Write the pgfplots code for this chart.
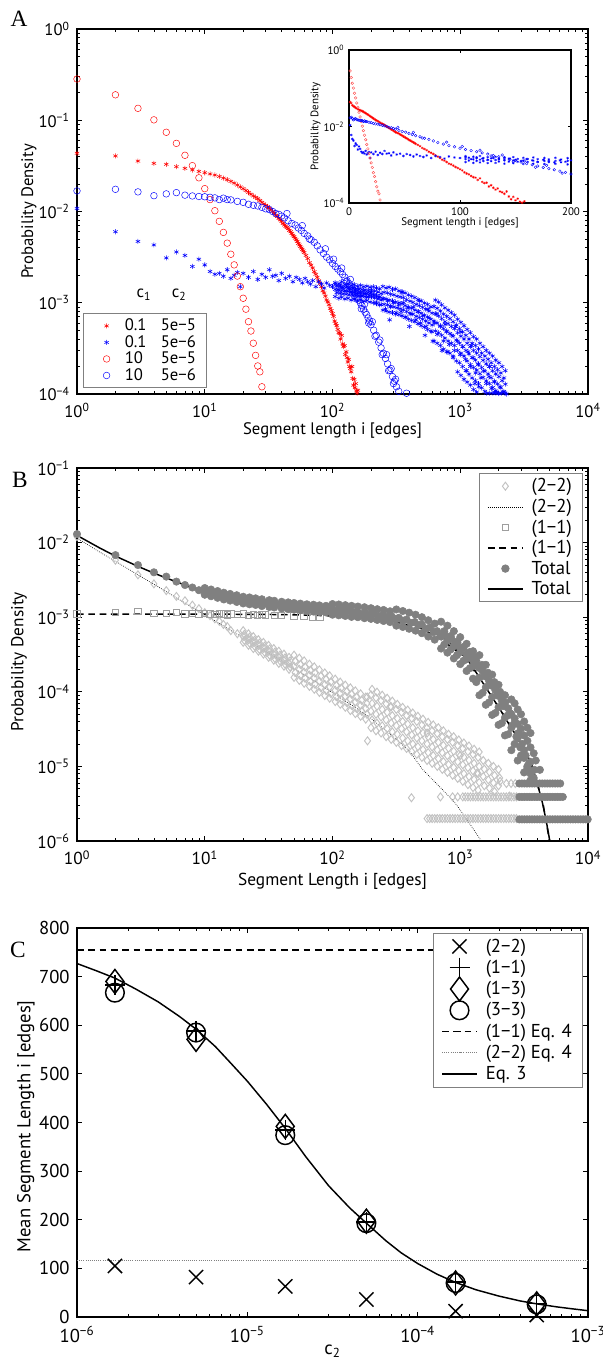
\documentclass[border=0pt]{standalone}
\usepackage{pgfplots}
\pgfplotsset{compat=1.18}
\usepackage{pgfplotstable}
\usepackage{fontspec}
\setmainfont{PT Sans}
\newfontfamily\serifL{Liberation Serif}
\newcommand{\E}[1]{10\textsuperscript{#1}}
\definecolor{dgray}{gray}{0.5}
\definecolor{lgray}{gray}{0.76}
\definecolor{mgray}{gray}{0.62}
\newcommand{\fa}{\fontsize{12.5}{14}\selectfont}
\newcommand{\fb}{\fontsize{13}{15}\selectfont}
\newcommand{\fbl}{\fontsize{14}{16}\selectfont}
\newcommand{\fc}{\fontsize{14}{16}\selectfont}
\newcommand{\insetfont}{\fontsize{8.2}{9.5}\selectfont}
% legend image for mark-only series: width, draw options, mark options
\newcommand{\mleg}[3]{\addlegendimage{legend image code/.code={\path (0cm,0cm) (#1,0cm);\begin{pgfinterruptboundingbox}\draw[#2] plot[#3] coordinates {(#1/2,0cm)};\end{pgfinterruptboundingbox}}}}

\pgfplotsset{
  mainax/.style={
    scale only axis, width=383.25pt, anchor=south west,
    axis line style={line width=0.9pt},
    tick style={line width=0.6pt, black},
    major tick length=3.5pt, minor tick length=2pt,
    xticklabel style={yshift=-3.5pt},
    yticklabel style={xshift=-2pt},
    legend style={draw=gray, line width=0.6pt, inner xsep=6pt},
    legend cell align=left,
    legend image code/.code={\draw[mark repeat=2,mark phase=2,##1] plot coordinates {(0cm,0cm) (0.46cm,0cm) (0.92cm,0cm)};},
  },
}

% ---------- Panel A data ----------
\pgfplotstableread{
i y
1 0.283
2 0.190
3 0.135
4 0.101
5 0.0738
6 0.0558
7 0.0413
8 0.0318
9 0.0234
10 0.0178
11 0.0135
12 0.0102
13 0.0078
14 0.0059
15 0.0045
16 0.0034
17 0.0026
18 0.00196
19 0.0015
20 0.00112
21 0.00085
22 0.00062
23 0.00049
24 0.00036
25 0.000265
26 0.000203
27 0.000175
28 0.00012
}\rc

\pgfplotstableread{
i y
1 4.35e-2
2 4.06e-2
3 3.57e-2
4 3.37e-2
5 3.29e-2
6 3.1e-2
7 2.97e-2
8 2.85e-2
9 2.75e-2
10 2.66e-2
11 2.58e-2
12 2.51e-2
13 2.42e-2
14 2.32e-2
15 2.23e-2
16 2.14e-2
17 2.05e-2
18 1.95e-2
19 1.86e-2
20 1.78e-2
21 1.7e-2
22 1.62e-2
23 1.55e-2
24 1.48e-2
25 1.43e-2
26 1.38e-2
27 1.32e-2
28 1.26e-2
29 1.21e-2
30 1.17e-2
31 1.13e-2
32 1.09e-2
33 1.05e-2
34 1.0e-2
35 9.6e-3
36 9.1e-3
37 8.8e-3
38 8.4e-3
39 8.1e-3
40 7.8e-3
41 7.4e-3
42 7.1e-3
43 6.9e-3
44 6.7e-3
45 6.5e-3
46 6.2e-3
47 6.0e-3
48 5.75e-3
49 5.5e-3
50 5.3e-3
51 5.1e-3
52 4.9e-3
53 4.7e-3
54 4.47e-3
55 4.3e-3
56 4.15e-3
57 3.98e-3
58 3.85e-3
59 3.7e-3
60 3.55e-3
62 3.3e-3
64 3.05e-3
66 2.75e-3
68 2.58e-3
70 2.4e-3
72 2.19e-3
74 2.05e-3
76 1.9e-3
78 1.74e-3
80 1.63e-3
82 1.5e-3
84 1.35e-3
86 1.28e-3
88 1.18e-3
90 1.07e-3
92 1.02e-3
94 9.5e-4
96 8.7e-4
98 8.2e-4
100 7.6e-4
102 7.1e-4
104 6.3e-4
106 5.9e-4
108 5.6e-4
110 5.1e-4
112 4.7e-4
114 4.6e-4
116 4.0e-4
118 4.4e-4
120 3.55e-4
122 3.3e-4
124 3.4e-4
126 2.7e-4
128 2.9e-4
130 2.5e-4
132 2.24e-4
134 2.4e-4
136 2.0e-4
138 1.9e-4
140 1.75e-4
142 2.0e-4
144 1.48e-4
146 1.25e-4
148 1.45e-4
150 1.17e-4
152 1.3e-4
154 1.08e-4
156 1.02e-4
158 1.1e-4
}\rs

\pgfplotstableread{
i y
1 1.68e-2
2 1.75e-2
3 1.64e-2
4 1.49e-2
5 1.56e-2
6 1.61e-2
7 1.51e-2
8 1.48e-2
9 1.46e-2
10 1.45e-2
11 1.43e-2
12 1.41e-2
13 1.35e-2
14 1.40e-2
15 1.35e-2
16 1.34e-2
18 1.29e-2
20 1.26e-2
22 1.20e-2
24 1.17e-2
26 1.15e-2
28 1.11e-2
30 1.07e-2
32 1.05e-2
34 1.0e-2
36 9.5e-3
38 9.3e-3
40 8.9e-3
42 8.5e-3
44 9.5e-3
45 7.9e-3
48 7.4e-3
51 7.1e-3
54 6.6e-3
57 6.2e-3
58 7.0e-3
60 5.75e-3
64 5.4e-3
66 5.0e-3
68 4.9e-3
72 4.6e-3
76 4.2e-3
80 3.8e-3
85 3.47e-3
88 3.9e-3
90 3.16e-3
95 2.95e-3
100 2.7e-3
102 3.0e-3
105 2.5e-3
110 2.34e-3
115 2.19e-3
118 2.4e-3
120 2.04e-3
125 1.9e-3
128 1.7e-3
130 1.74e-3
135 1.62e-3
138 1.8e-3
140 1.51e-3
145 1.38e-3
148 1.2e-3
150 1.29e-3
155 1.17e-3
158 1.25e-3
160 1.07e-3
165 1.0e-3
168 8.6e-4
170 9.3e-4
175 8.5e-4
178 9.6e-4
180 7.9e-4
185 7.4e-4
190 6.8e-4
192 6.0e-4
195 6.3e-4
200 5.75e-4
205 6.2e-4
210 5.0e-4
215 4.3e-4
220 4.4e-4
230 3.7e-4
235 3.9e-4
240 3.2e-4
245 2.7e-4
250 2.8e-4
260 2.45e-4
265 2.7e-4
270 2.14e-4
275 1.8e-4
282 1.82e-4
288 1.9e-4
295 1.55e-4
300 1.3e-4
305 1.38e-4
312 1.45e-4
317 1.2e-4
330 1.07e-4
380 1.02e-4
}\bc

\pgfplotstableread{
i y
1 1.08e-2
2 6.0e-3
3 4.7e-3
4 4.3e-3
5 3.1e-3
6 3.6e-3
7 3.3e-3
8 2.5e-3
9 3.0e-3
10 2.6e-3
11 2.2e-3
12 2.05e-3
13 2.1e-3
14 1.95e-3
15 2.3e-3
16 1.85e-3
17 2.0e-3
18 2.15e-3
19 1.5e-3
20 2.1e-3
22 1.9e-3
24 2.2e-3
26 1.8e-3
28 2.05e-3
30 1.9e-3
32 2.3e-3
34 1.95e-3
36 2.0e-3
38 1.75e-3
40 2.1e-3
43 1.85e-3
46 1.95e-3
49 1.7e-3
52 1.9e-3
55 1.8e-3
58 1.65e-3
61 1.85e-3
64 1.7e-3
67 1.6e-3
70 1.75e-3
74 1.5e-3
78 1.7e-3
82 1.6e-3
86 1.45e-3
90 1.65e-3
95 1.55e-3
100 1.5e-3
105 1.6e-3
110 1.4e-3
115 1.55e-3
120 1.45e-3
125 1.35e-3
130 1.5e-3
135 1.4e-3
140 1.3e-3
145 1.45e-3
150 1.35e-3
155 1.25e-3
160 1.4e-3
165 1.3e-3
170 1.2e-3
175 1.35e-3
180 1.25e-3
185 1.15e-3
190 1.3e-3
195 1.2e-3
200 1.3e-3
210 1.2e-3
220 1.0e-3
230 1.15e-3
240 9.5e-4
250 1.1e-3
260 8.5e-4
270 1.05e-3
280 6.5e-4
285 9.0e-4
300 1.0e-3
315 7.8e-4
330 9.5e-4
345 8.0e-4
350 1.3e-3
360 1.0e-3
375 7.0e-4
390 8.8e-4
400 5.5e-4
410 7.5e-4
430 9.0e-4
450 6.5e-4
470 8.0e-4
480 1.05e-3
490 6.0e-4
510 7.2e-4
530 4.4e-4
540 5.5e-4
560 8.5e-4
570 6.8e-4
600 4.8e-4
610 3.8e-4
630 6.0e-4
650 7.5e-4
660 4.5e-4
700 5.5e-4
720 3.0e-4
740 3.8e-4
760 5.8e-4
780 4.8e-4
800 2.9e-4
820 3.5e-4
860 4.4e-4
880 2.5e-4
900 3.0e-4
920 5.5e-4
950 3.8e-4
1000 2.7e-4
1010 4.8e-4
1050 3.3e-4
1100 2.4e-4
1120 1.8e-4
1150 2.9e-4
1200 2.0e-4
1220 3.4e-4
1260 2.5e-4
1300 1.3e-4
1320 1.7e-4
1380 2.1e-4
1400 1.2e-4
1450 1.5e-4
1520 1.8e-4
1600 1.3e-4
1680 1.55e-4
1700 2.0e-4
1760 1.15e-4
1850 1.35e-4
1930 1.05e-4
2050 1.2e-4
2160 1.05e-4
2300 1.0e-4
}\bs

\pgfplotstableread{
i y
105 1.66e-3
105 1.40e-3
105 1.17e-3
112 1.62e-3
112 1.38e-3
112 1.12e-3
118 1.70e-3
118 1.36e-3
118 1.15e-3
125 1.58e-3
125 1.35e-3
125 1.10e-3
132 1.62e-3
132 1.33e-3
132 1.12e-3
140 1.55e-3
140 1.32e-3
140 1.07e-3
148 1.58e-3
148 1.30e-3
148 1.09e-3
157 1.52e-3
157 1.29e-3
157 1.05e-3
166 1.55e-3
166 1.28e-3
166 1.07e-3
176 1.50e-3
176 1.27e-3
176 1.04e-3
186 1.52e-3
186 1.26e-3
186 1.06e-3
197 1.48e-3
197 1.26e-3
197 1.02e-3
209 1.5e-3
209 1.23e-3
209 1.0e-3
221 1.45e-3
221 1.20e-3
221 9.8e-4
234 1.42e-3
234 1.16e-3
234 9.5e-4
248 1.51e-3
248 1.12e-3
248 8.3e-4
263 1.45e-3
263 1.10e-3
263 8.1e-4
278 1.48e-3
278 1.07e-3
278 7.9e-4
295 1.40e-3
295 1.05e-3
295 7.8e-4
312 1.42e-3
312 1.02e-3
312 7.5e-4
331 1.35e-3
331 1.0e-3
331 7.4e-4
350 1.32e-3
350 9.8e-4
350 7.2e-4
371 1.28e-3
371 9.3e-4
371 6.9e-4
393 1.22e-3
393 9.0e-4
393 6.6e-4
416 1.18e-3
416 8.7e-4
416 6.4e-4
441 1.14e-3
441 8.3e-4
441 6.2e-4
467 1.08e-3
467 8.0e-4
467 5.9e-4
495 1.05e-3
495 7.7e-4
495 5.6e-4
524 9.9e-4
524 7.3e-4
524 5.4e-4
555 9.6e-4
555 7.0e-4
555 5.1e-4
588 9.0e-4
588 6.6e-4
588 4.9e-4
623 9.1e-4
623 6.3e-4
623 3.8e-4
660 8.7e-4
660 6.0e-4
660 3.6e-4
699 8.1e-4
699 5.6e-4
699 3.4e-4
740 7.5e-4
740 5.2e-4
740 3.1e-4
784 7.1e-4
784 4.9e-4
784 2.9e-4
830 6.7e-4
830 4.6e-4
830 2.8e-4
879 6.2e-4
879 4.3e-4
879 2.6e-4
931 5.7e-4
931 3.9e-4
931 2.3e-4
986 5.2e-4
986 3.6e-4
986 2.2e-4
1044 4.8e-4
1044 3.3e-4
1044 2.0e-4
1106 4.4e-4
1106 3.0e-4
1106 1.8e-4
1171 4.0e-4
1171 2.75e-4
1171 1.65e-4
1240 3.6e-4
1240 2.5e-4
1240 1.5e-4
1313 3.4e-4
1313 2.35e-4
1313 1.4e-4
1390 3.1e-4
1390 2.14e-4
1390 1.3e-4
1472 2.8e-4
1472 1.95e-4
1472 1.17e-4
1559 2.6e-4
1559 1.78e-4
1559 1.07e-4
1651 2.4e-4
1651 1.66e-4
1748 2.2e-4
1748 1.51e-4
1851 2.0e-4
1851 1.38e-4
1851 1.05e-4
1960 1.85e-4
1960 1.29e-4
2076 1.7e-4
2076 1.17e-4
2198 1.5e-4
2198 1.07e-4
1600 1.02e-4
1700 1.02e-4
1800 1.02e-4
1900 1.02e-4
2000 1.02e-4
2100 1.02e-4
2250 1.02e-4
108 1.53e-3
108 1.29e-3
115 1.50e-3
115 1.27e-3
121 1.48e-3
121 1.25e-3
128 1.47e-3
128 1.24e-3
135 1.45e-3
135 1.22e-3
144 1.44e-3
144 1.21e-3
152 1.42e-3
152 1.2e-3
161 1.41e-3
161 1.19e-3
170 1.40e-3
170 1.18e-3
180 1.38e-3
180 1.17e-3
191 1.37e-3
191 1.16e-3
202 1.37e-3
202 1.16e-3
214 1.34e-3
214 1.13e-3
227 1.31e-3
227 1.1e-3
240 1.26e-3
240 1.07e-3
254 1.30e-3
254 9.6e-4
270 1.28e-3
270 9.5e-4
285 1.24e-3
285 9.2e-4
302 1.22e-3
302 9.0e-4
320 1.18e-3
320 8.8e-4
339 1.16e-3
339 8.6e-4
359 1.14e-3
359 8.4e-4
380 1.08e-3
380 8.0e-4
403 1.04e-3
403 7.7e-4
426 1.01e-3
426 7.5e-4
452 9.6e-4
452 7.1e-4
479 9.3e-4
479 6.9e-4
507 8.9e-4
507 6.6e-4
537 8.5e-4
537 6.3e-4
569 8.1e-4
569 6.0e-4
603 7.7e-4
603 5.7e-4
639 7.6e-4
639 4.9e-4
639 1.07e-3
677 7.2e-4
677 4.7e-4
677 1.02e-3
716 6.7e-4
716 4.4e-4
716 9.5e-4
759 6.2e-4
759 4.1e-4
759 8.8e-4
804 5.9e-4
804 3.8e-4
804 8.3e-4
851 5.5e-4
851 3.6e-4
851 7.8e-4
901 5.2e-4
901 3.4e-4
901 7.3e-4
954 4.7e-4
954 3.0e-4
954 6.6e-4
954 1.75e-4
1011 4.3e-4
1011 2.8e-4
1011 6.1e-4
1011 1.6e-4
1070 4.0e-4
1070 2.6e-4
1070 5.6e-4
1070 1.45e-4
1134 3.6e-4
1134 2.3e-4
1134 5.1e-4
1134 1.35e-4
1200 3.3e-4
1200 2.1e-4
1200 4.7e-4
1200 1.25e-4
1271 3.0e-4
1271 1.95e-4
1271 4.25e-4
1271 1.12e-4
1346 2.8e-4
1346 1.83e-4
1346 4.0e-4
1346 1.05e-4
1425 2.57e-4
1425 1.67e-4
1425 3.6e-4
1509 2.34e-4
1509 1.52e-4
1509 3.3e-4
1598 2.14e-4
1598 1.39e-4
1598 3.0e-4
1692 2.0e-4
1692 1.3e-4
1692 2.8e-4
1792 1.8e-4
1792 1.18e-4
1792 2.6e-4
1897 1.66e-4
1897 1.08e-4
1897 2.35e-4
2009 1.55e-4
2009 1.01e-4
2009 2.2e-4
2128 1.4e-4
2128 2.0e-4
2253 1.28e-4
2253 1.8e-4
}\bsband

% ---------- Panel B data ----------
\pgfplotstableread{
i y
1 1.2e-2
2 5.8e-3
3 3.7e-3
4 2.8e-3
5 2.27e-3
6 1.9e-3
7 1.66e-3
8 1.45e-3
9 1.3e-3
10 1.15e-3
11 1.05e-3
12 9.5e-4
13 8.8e-4
14 8.0e-4
15 7.5e-4
16 6.6e-4
18 6.0e-4
187 8.5e-5
284 6.3e-5
188 2.2e-5
550 2.8e-5
1001 1.4e-5
1351 8.1e-6
2050 6.3e-6
415 3.8e-6
2430 4.0e-6
}\dd

\pgfplotstableread{
i y
20 6.6e-4
20 5.5e-4
20 4.6e-4
22 6.0e-4
22 5.0e-4
22 4.2e-4
24 5.5e-4
24 4.58e-4
24 3.8e-4
26.3 5.0e-4
26.3 4.18e-4
26.3 3.5e-4
28.8 4.6e-4
28.8 3.82e-4
28.8 3.2e-4
31.6 4.2e-4
31.6 3.48e-4
31.6 2.9e-4
34.7 3.8e-4
34.7 3.17e-4
34.7 2.65e-4
38 3.5e-4
38 2.89e-4
38 2.4e-4
41.7 3.2e-4
41.7 2.64e-4
41.7 2.2e-4
45.7 2.9e-4
45.7 2.41e-4
45.7 2.0e-4
50 3.1e-4
50 2.2e-4
50 1.56e-4
55 2.83e-4
55 2.0e-4
55 1.42e-4
60 2.6e-4
60 1.83e-4
60 1.3e-4
66 2.35e-4
66 1.67e-4
66 1.18e-4
72 2.16e-4
72 1.53e-4
72 1.08e-4
79 1.97e-4
79 1.39e-4
79 9.8e-5
87 1.79e-4
87 1.26e-4
87 8.9e-5
95 1.64e-4
95 1.16e-4
95 8.2e-5
105 1.48e-4
105 1.05e-4
105 7.4e-5
115 1.35e-4
115 9.6e-5
115 6.8e-5
126 1.23e-4
126 8.7e-5
126 6.2e-5
138 1.13e-4
138 8.0e-5
138 5.6e-5
151 1.03e-4
151 7.3e-5
151 5.1e-5
166 9.4e-5
166 6.6e-5
166 4.7e-5
182 8.5e-5
182 6.0e-5
182 4.3e-5
200 9.1e-5
200 5.5e-5
200 3.3e-5
219 8.3e-5
219 5.0e-5
219 3.0e-5
240 7.6e-5
240 4.6e-5
240 2.8e-5
263 6.9e-5
263 4.2e-5
263 2.5e-5
288 6.3e-5
288 3.8e-5
288 2.3e-5
316 5.8e-5
316 3.5e-5
316 2.1e-5
347 5.3e-5
347 3.2e-5
347 1.9e-5
380 4.8e-5
380 2.9e-5
380 1.74e-5
417 4.4e-5
417 2.64e-5
417 1.58e-5
457 4.0e-5
457 2.4e-5
457 1.45e-5
501 3.6e-5
501 2.2e-5
501 1.32e-5
550 3.3e-5
550 2.0e-5
550 1.2e-5
603 3.0e-5
603 1.82e-5
603 1.1e-5
661 2.75e-5
661 1.66e-5
661 1.0e-5
724 2.5e-5
724 1.52e-5
724 9.1e-6
794 2.3e-5
794 1.39e-5
794 8.3e-6
871 2.1e-5
871 1.26e-5
871 7.6e-6
955 1.9e-5
955 1.15e-5
955 6.9e-6
1047 1.74e-5
1047 1.05e-5
1047 6.3e-6
1148 1.58e-5
1148 9.6e-6
1148 5.7e-6
1259 1.45e-5
1259 8.7e-6
1259 5.2e-6
1380 1.32e-5
1380 8.0e-6
1380 4.8e-6
1514 1.2e-5
1514 7.3e-6
1660 1.1e-5
1660 6.6e-6
1820 1.0e-5
1820 6.0e-6
1995 9.1e-6
1995 5.5e-6
2300 5.9e-6
2500 5.9e-6
2700 5.9e-6
20.4 5.9e-4
20.4 4.9e-4
22.4 5.4e-4
22.4 4.5e-4
24.5 4.9e-4
24.5 4.1e-4
26.8 4.5e-4
26.8 3.7e-4
29.4 4.1e-4
29.4 3.4e-4
32.2 3.76e-4
32.2 3.1e-4
35.4 3.4e-4
35.4 2.8e-4
38.8 3.1e-4
38.8 2.6e-4
42.5 2.85e-4
42.5 2.35e-4
46.6 2.6e-4
46.6 2.15e-4
51 2.57e-4
51 1.81e-4
56 2.33e-4
56 1.65e-4
61 2.15e-4
61 1.52e-4
67 1.95e-4
67 1.38e-4
73 1.79e-4
73 1.26e-4
81 1.62e-4
81 1.14e-4
89 1.47e-4
89 1.04e-4
97 1.35e-4
97 9.5e-5
107 1.22e-4
107 8.6e-5
117 1.12e-4
117 7.9e-5
129 1.01e-4
129 7.2e-5
141 9.3e-5
141 6.6e-5
154 8.5e-5
154 6.0e-5
169 7.7e-5
169 5.5e-5
186 7.0e-5
186 5.0e-5
204 7.0e-5
204 4.2e-5
204 1.08e-4
223 6.4e-5
223 3.8e-5
223 9.9e-5
245 5.8e-5
245 3.5e-5
245 9.0e-5
268 5.3e-5
268 3.2e-5
268 8.2e-5
294 4.8e-5
294 2.9e-5
294 7.5e-5
322 4.4e-5
322 2.7e-5
322 6.8e-5
354 4.0e-5
354 2.4e-5
354 6.2e-5
388 3.7e-5
388 2.2e-5
388 5.7e-5
425 3.3e-5
425 2.0e-5
425 5.2e-5
466 3.0e-5
466 1.84e-5
466 4.7e-5
511 2.8e-5
511 1.68e-5
511 4.3e-5
561 2.5e-5
561 1.53e-5
561 3.9e-5
615 2.3e-5
615 1.4e-5
615 3.6e-5
674 2.1e-5
674 1.27e-5
674 3.3e-5
738 1.92e-5
738 1.16e-5
738 3.0e-5
810 1.75e-5
810 1.06e-5
810 2.7e-5
888 1.6e-5
888 9.7e-6
888 2.5e-5
974 1.46e-5
974 8.8e-6
974 2.26e-5
1068 1.33e-5
1068 8.0e-6
1068 2.06e-5
1171 1.21e-5
1171 7.3e-6
1171 1.88e-5
1284 1.1e-5
1284 6.7e-6
1284 1.7e-5
1408 1.0e-5
1408 6.1e-6
1408 1.56e-5
1544 9.2e-6
1544 5.5e-6
1693 8.4e-6
1693 5.1e-6
1856 7.6e-6
1856 4.6e-6
2035 7.0e-6
}\ddband

\pgfplotstableread{
i y
550 2.0e-6
576 2.0e-6
603 2.0e-6
631 2.0e-6
661 2.0e-6
692 2.0e-6
724 2.0e-6
759 2.0e-6
794 2.0e-6
832 2.0e-6
871 2.0e-6
912 2.0e-6
955 2.0e-6
1000 2.0e-6
1047 2.0e-6
1096 2.0e-6
1148 2.0e-6
1202 2.0e-6
1259 2.0e-6
1318 2.0e-6
1380 2.0e-6
1445 2.0e-6
1514 2.0e-6
1585 2.0e-6
1660 2.0e-6
1738 2.0e-6
1820 2.0e-6
1905 2.0e-6
1995 2.0e-6
2089 2.0e-6
2188 2.0e-6
2291 2.0e-6
2399 2.0e-6
2512 2.0e-6
2630 2.0e-6
2754 2.0e-6
700 3.9e-6
871 3.9e-6
955 3.9e-6
1047 3.9e-6
1096 3.9e-6
1148 3.9e-6
1202 3.9e-6
1259 3.9e-6
1318 3.9e-6
1380 3.9e-6
1445 3.9e-6
1514 3.9e-6
1585 3.9e-6
1660 3.9e-6
1738 3.9e-6
1820 3.9e-6
1905 3.9e-6
1995 3.9e-6
2089 3.9e-6
2188 3.9e-6
2291 3.9e-6
2399 3.9e-6
2512 3.9e-6
2630 3.9e-6
2754 3.9e-6
}\ddfloor

\pgfplotstableread{
i y
1 1.15e-2
1.5 7.5e-3
2 5.6e-3
3 3.7e-3
5 2.2e-3
7 1.55e-3
10 1.08e-3
15 7.1e-4
20 5.3e-4
30 3.5e-4
50 2.05e-4
70 1.45e-4
100 9.7e-5
150 6.2e-5
200 4.4e-5
256 3.1e-5
300 2.5e-5
400 1.6e-5
510 9.0e-6
600 6.8e-6
700 5.2e-6
800 4.1e-6
890 3.4e-6
1000 2.6e-6
1100 2.05e-6
1200 1.65e-6
1300 1.35e-6
1400 1.12e-6
1500 9.5e-7
}\dtheory

\pgfplotstableread{
i y
1 1.1e-3
2 1.15e-3
3 1.2e-3
4 1.12e-3
5 1.12e-3
6 1.15e-3
7 1.1e-3
8 1.12e-3
9 1.1e-3
10 1.12e-3
11 1.1e-3
12 1.08e-3
13 1.12e-3
14 1.1e-3
15 1.07e-3
16 1.1e-3
18 1.08e-3
20 1.1e-3
22 1.06e-3
24 1.08e-3
26 1.05e-3
28 1.08e-3
30 1.07e-3
35 1.05e-3
40 1.06e-3
50 1.04e-3
60 1.02e-3
70 1.0e-3
80 1.0e-3
}\sq

\pgfplotstableread{
i y
1 1.1e-3
10 1.1e-3
30 1.09e-3
60 1.07e-3
100 1.04e-3
200 9.6e-4
300 8.8e-4
500 7.0e-4
700 5.2e-4
1000 3.2e-4
1500 1.4e-4
2000 6.2e-5
2700 2.8e-5
3500 1.2e-5
4400 3.5e-6
5000 1.0e-6
}\sqtheory

\pgfplotstableread{
i y
1 1.3e-2
2 6.8e-3
3 5.0e-3
4 4.0e-3
5 3.5e-3
6 3.0e-3
7 2.7e-3
8 2.5e-3
9 2.3e-3
10 2.2e-3
11 2.1e-3
12 2.05e-3
13 1.95e-3
14 1.9e-3
15 1.88e-3
16 1.82e-3
17 1.8e-3
18 1.75e-3
19 1.73e-3
20 1.7e-3
22 1.66e-3
24 1.62e-3
26 1.6e-3
28 1.56e-3
30 1.54e-3
33 1.5e-3
36 1.47e-3
40 1.5e-3
44 1.42e-3
48 1.44e-3
52 1.38e-3
56 1.4e-3
60 1.34e-3
65 1.36e-3
70 1.3e-3
75 1.33e-3
80 1.28e-3
86 1.3e-3
92 1.25e-3
100 1.28e-3
108 1.22e-3
116 1.25e-3
125 1.18e-3
135 1.22e-3
145 1.15e-3
155 1.19e-3
165 1.12e-3
180 1.15e-3
195 1.08e-3
210 1.12e-3
230 1.04e-3
250 1.08e-3
270 1.0e-3
290 1.03e-3
310 9.5e-4
330 9.8e-4
355 9.0e-4
380 9.3e-4
410 8.4e-4
440 8.6e-4
470 7.8e-4
500 8.0e-4
540 7.0e-4
580 7.3e-4
620 6.3e-4
660 6.5e-4
700 5.6e-4
750 5.9e-4
800 4.9e-4
850 5.2e-4
900 4.3e-4
950 4.6e-4
1000 3.8e-4
1060 4.0e-4
1120 3.2e-4
1180 3.4e-4
1250 2.7e-4
1320 2.9e-4
1400 2.1e-4
1480 2.3e-4
1560 1.65e-4
1650 1.8e-4
1750 1.25e-4
1850 1.35e-4
1950 9.0e-5
2050 1.0e-4
2150 6.5e-5
2250 7.2e-5
2350 4.8e-5
2450 5.2e-5
2550 3.5e-5
2650 3.8e-5
2750 2.5e-5
2850 2.8e-5
2950 1.8e-5
3050 2.0e-5
3150 1.3e-5
3250 1.4e-5
3350 1.0e-5
3450 1.1e-5
3550 8.0e-6
3800 9.0e-6
}\tot

\pgfplotstableread{
i y
10 2.46e-3
10 2.0e-3
11.2 2.35e-3
11.2 1.91e-3
12.6 2.24e-3
12.6 1.82e-3
14.1 2.13e-3
14.1 1.73e-3
15.8 2.05e-3
15.8 1.67e-3
17.8 1.97e-3
17.8 1.6e-3
20 1.88e-3
20 1.53e-3
22.4 1.84e-3
22.4 1.49e-3
25 1.79e-3
25 1.46e-3
28 1.74e-3
28 1.41e-3
32 1.69e-3
32 1.37e-3
35 1.66e-3
35 1.35e-3
40 1.61e-3
40 1.31e-3
45 1.58e-3
45 1.28e-3
50 1.55e-3
50 1.26e-3
56 1.52e-3
56 1.24e-3
63 1.49e-3
63 1.21e-3
71 1.47e-3
71 1.19e-3
79 1.44e-3
79 1.17e-3
89 1.42e-3
89 1.16e-3
100 1.5e-3
100 1.08e-3
112 1.48e-3
112 1.06e-3
126 1.45e-3
126 1.04e-3
141 1.42e-3
141 1.01e-3
158 1.39e-3
158 1.0e-3
178 1.36e-3
178 9.7e-4
200 1.32e-3
200 9.5e-4
224 1.28e-3
224 9.2e-4
251 1.25e-3
251 8.9e-4
282 1.2e-3
282 8.6e-4
316 1.27e-3
316 7.7e-4
355 1.21e-3
355 7.4e-4
398 1.15e-3
398 7.0e-4
447 1.08e-3
447 6.6e-4
501 1.0e-3
501 6.1e-4
562 9.1e-4
562 5.5e-4
631 8.2e-4
631 5.0e-4
708 8.7e-4
708 5.5e-4
708 3.8e-4
794 7.7e-4
794 4.85e-4
794 3.35e-4
891 6.5e-4
891 4.1e-4
891 2.8e-4
1000 5.4e-4
1000 3.4e-4
1000 2.35e-4
1122 4.4e-4
1122 2.8e-4
1122 1.9e-4
1259 3.5e-4
1259 2.2e-4
1259 1.5e-4
1413 3.1e-4
1413 2.2e-4
1413 1.55e-4
1413 9.0e-5
1585 2.3e-4
1585 1.6e-4
1585 1.15e-4
1585 6.7e-5
1778 1.7e-4
1778 1.2e-4
1778 8.5e-5
1778 4.9e-5
1995 1.24e-4
1995 8.8e-5
1995 6.2e-5
1995 3.6e-5
2239 9.0e-5
2239 6.4e-5
2239 4.5e-5
2239 2.6e-5
2512 7.9e-5
2512 5.0e-5
2512 3.3e-5
2512 1.65e-5
2818 5.8e-5
2818 3.7e-5
2818 2.4e-5
2818 1.2e-5
3162 4.0e-5
3162 2.6e-5
3162 1.65e-5
3162 8.3e-6
3548 2.8e-5
3548 1.8e-5
3548 1.15e-5
3548 6.5e-6
3900 1.2e-5
4200 9.0e-6
750 6.5e-4
750 4.3e-4
842 5.6e-4
842 3.7e-4
944 4.7e-4
944 3.1e-4
1060 3.9e-4
1060 2.6e-4
1190 3.15e-4
1190 2.07e-4
1335 2.6e-4
1335 1.35e-4
1498 1.9e-4
1498 9.7e-5
1680 1.4e-4
1680 7.2e-5
1885 1.05e-4
1885 5.2e-5
2115 7.6e-5
2115 3.8e-5
2375 6.0e-5
2375 2.7e-5
2665 4.4e-5
2665 2.0e-5
2665 7.0e-5
2990 3.2e-5
2990 1.4e-5
2990 5.0e-5
3355 2.2e-5
3355 9.5e-6
3355 3.3e-5
3760 1.5e-5
3760 7.0e-6
}\totband

\pgfplotstableread{
i y
2900 5.9e-6
3040 5.9e-6
3180 5.9e-6
3330 5.9e-6
3490 5.9e-6
3650 5.9e-6
3820 5.9e-6
4000 5.9e-6
4190 5.9e-6
4390 5.9e-6
4600 5.9e-6
4810 5.9e-6
5040 5.9e-6
5280 5.9e-6
5530 5.9e-6
5790 5.9e-6
6060 5.9e-6
2900 3.9e-6
3040 3.9e-6
3180 3.9e-6
3330 3.9e-6
3490 3.9e-6
3650 3.9e-6
3820 3.9e-6
4000 3.9e-6
4190 3.9e-6
4390 3.9e-6
4600 3.9e-6
4810 3.9e-6
5040 3.9e-6
5280 3.9e-6
5530 3.9e-6
5790 3.9e-6
6060 3.9e-6
6350 3.9e-6
2900 1.95e-6
3040 1.95e-6
3180 1.95e-6
3330 1.95e-6
3490 1.95e-6
3650 1.95e-6
3820 1.95e-6
4000 1.95e-6
4190 1.95e-6
4390 1.95e-6
4600 1.95e-6
4810 1.95e-6
5040 1.95e-6
5280 1.95e-6
5530 1.95e-6
5790 1.95e-6
6060 1.95e-6
6350 1.95e-6
6650 1.95e-6
6960 1.95e-6
7290 1.95e-6
7630 1.95e-6
7990 1.95e-6
8370 1.95e-6
8760 1.95e-6
9170 1.95e-6
9600 1.95e-6
9950 1.95e-6
}\totfloor

\pgfplotstableread{
i y
1 1.25e-2
1.5 8.5e-3
2 6.6e-3
3 4.8e-3
4 3.9e-3
5 3.35e-3
7 2.7e-3
10 2.2e-3
15 1.85e-3
20 1.68e-3
30 1.52e-3
50 1.38e-3
70 1.31e-3
100 1.25e-3
150 1.17e-3
200 1.1e-3
300 9.8e-4
400 8.7e-4
500 7.6e-4
600 6.5e-4
700 5.6e-4
800 4.8e-4
1000 3.4e-4
1200 2.4e-4
1450 1.45e-4
1700 9.5e-5
2050 5.8e-5
2400 3.7e-5
2700 2.7e-5
3100 1.75e-5
3570 1.15e-5
4000 6.0e-6
4390 3.3e-6
4700 1.9e-6
5000 1.05e-6
5200 7e-7
}\tottheory

% ---------- Panel C data ----------
\pgfplotstableread{
c y
1.67e-6 105
5e-6 82
1.67e-5 63
5e-5 36
1.67e-4 12
5e-4 4
}\cx
\pgfplotstableread{
c y
1.67e-6 683
5e-6 588
1.67e-5 385
5e-5 195
1.67e-4 72
5e-4 28
}\cp
\pgfplotstableread{
c y
1.67e-6 690
5e-6 571
1.67e-5 392
5e-5 197
1.67e-4 70
5e-4 27
}\cd
\pgfplotstableread{
c y
1.67e-6 667
5e-6 585
1.67e-5 374
5e-5 193
1.67e-4 70
5e-4 26
}\co
\pgfplotstableread{
c y
1e-6 727
1.3e-6 712
1.67e-6 697
2.2e-6 675
3e-6 648
4e-6 618
5e-6 592
6.5e-6 556
8e-6 522
1e-5 485
1.3e-5 437
1.67e-5 388
2.2e-5 330
3e-5 270
4e-5 224
5e-5 193
6.5e-5 157
8e-5 132
1e-4 110
1.3e-4 88
1.67e-4 71
2.2e-4 56
3e-4 43
4e-4 33
5e-4 27
6.5e-4 21
8e-4 17
1e-3 13
}\ceq

\begin{document}
\begin{tikzpicture}
\useasboundingbox (0,0) rectangle (452.25pt,1023pt);

% ================= Panel A =================
\begin{axis}[mainax, at={(57.75pt,727.5pt)}, height=273.75pt,
  tick label style={font=\fa}, label style={font=\fa}, legend style={font=\fa},
  xmode=log, ymode=log, xmin=1, xmax=1e4, ymin=1e-4, ymax=1,
  xtick={1,10,100,1000,10000}, xticklabels={\E{0},\E{1},\E{2},\E{3},\E{4}},
  ytick={1e-4,1e-3,1e-2,1e-1,1}, yticklabels={\E{−4},\E{−3},\E{−2},\E{−1},\E{0}},
  xlabel={Segment length i [edges]}, ylabel={Probability Density},
  x label style={at={(axis description cs:0.5,-0.099)},anchor=center},
  y label style={at={(axis description cs:-0.094,0.5)},anchor=center},
  legend style={at={(0.011,0.016)},anchor=south west, row sep=-2pt},
]
\addplot[only marks, mark=asterisk, mark size=1.9pt, red, line width=0.4pt, forget plot] table {\rs};
\addplot[only marks, mark=asterisk, mark size=1.9pt, blue, line width=0.4pt, forget plot] table {\bs};
\addplot[only marks, mark=asterisk, mark size=1.9pt, blue, line width=0.4pt, forget plot] table {\bsband};
\addplot[only marks, mark=o, mark size=2.5pt, red, line width=0.35pt, forget plot] table {\rc};
\addplot[only marks, mark=o, mark size=2.5pt, blue, line width=0.35pt, forget plot] table {\bc};
\mleg{0.8cm}{red, line width=0.4pt}{mark=asterisk, mark size=1.9pt}
\addlegendentry{\makebox[27pt][l]{0.1}5e−5}
\mleg{0.8cm}{blue, line width=0.4pt}{mark=asterisk, mark size=1.9pt}
\addlegendentry{\makebox[27pt][l]{0.1}5e−6}
\mleg{0.8cm}{red, line width=0.35pt}{mark=o, mark size=2.5pt}
\addlegendentry{\makebox[27pt][l]{10}5e−5}
\mleg{0.8cm}{blue, line width=0.35pt}{mark=o, mark size=2.5pt}
\addlegendentry{\makebox[27pt][l]{10}5e−6}
\node[font=\fa] at (axis description cs:0.131,0.271) {c\textsubscript{1}};
\node[font=\fa] at (axis description cs:0.2,0.271) {c\textsubscript{2}};
\end{axis}

% inset
\begin{axis}[at={(261.75pt,870.75pt)}, anchor=south west, scale only axis,
  width=166.5pt, height=114.75pt,
  xmin=0, xmax=200, ymode=log, ymin=1e-4, ymax=1,
  xtick={0,100,200}, xticklabels={0,100,200}, ytick={1e-4,1e-2,1}, yticklabels={\E{−4},\E{−2},\E{0}},
  yminorticks=false,
  axis background/.style={fill=white},
  axis line style={line width=1pt},
  tick style={line width=0.6pt, black},
  major tick length=2.5pt,
  tick label style={font=\insetfont}, label style={font=\insetfont},
  xlabel={Segment length i [edges]}, ylabel={Probability Density},
  x label style={at={(axis description cs:0.5,-0.13)},anchor=center},
  y label style={at={(axis description cs:-0.15,0.5)},anchor=center},
]
\addplot[only marks, mark=asterisk, mark size=1pt, red, line width=0.3pt, restrict x to domain=0:200] table {\rs};
\addplot[only marks, mark=asterisk, mark size=1pt, blue, line width=0.3pt, restrict x to domain=0:200] table {\bs};
\addplot[only marks, mark=asterisk, mark size=1pt, blue, line width=0.3pt, restrict x to domain=0:200] table {\bsband};
\addplot[only marks, mark=o, mark size=1pt, red!70, line width=0.3pt, restrict x to domain=0:200] table {\rc};
\addplot[only marks, mark=o, mark size=1pt, blue, line width=0.3pt, restrict x to domain=0:200] table {\bc};
\end{axis}

% ================= Panel B =================
\begin{axis}[mainax, at={(57.75pt,392.25pt)}, height=279.75pt,
  tick label style={font=\fb}, label style={font=\fb}, legend style={font=\fbl},
  xmode=log, ymode=log, xmin=1, xmax=1e4, ymin=1e-6, ymax=1e-1,
  xtick={1,10,100,1000,10000}, xticklabels={\E{0},\E{1},\E{2},\E{3},\E{4}},
  ytick={1e-6,1e-5,1e-4,1e-3,1e-2,1e-1}, yticklabels={\E{−6},\E{−5},\E{−4},\E{−3},\E{−2},\E{−1}},
  xlabel={Segment Length i [edges]}, ylabel={Probability Density},
  x label style={at={(axis description cs:0.5,-0.109)},anchor=center},
  y label style={at={(axis description cs:-0.1135,0.48)},anchor=center},
  legend style={at={(0.99,0.987)},anchor=north east, row sep=0pt, column sep=4pt},
]
\addplot[only marks, mark=diamond, mark size=3pt, lgray, line width=0.7pt, forget plot] table {\dd};
\addplot[only marks, mark=diamond, mark size=3pt, lgray, line width=0.7pt, forget plot] table {\ddband};
\addplot[only marks, mark=diamond, mark size=3pt, lgray, line width=0.7pt, forget plot] table {\ddfloor};
\mleg{0.92cm}{lgray, line width=0.7pt}{mark=diamond, mark size=3pt}
\addlegendentry{(2−2)}
\addplot[densely dotted, black, line width=0.5pt] table {\dtheory};
\addlegendentry{(2−2)}
\addplot[only marks, mark=square, mark size=2.4pt, mgray, line width=0.7pt, forget plot] table {\sq};
\mleg{0.92cm}{mgray, line width=0.7pt}{mark=square, mark size=2.4pt}
\addlegendentry{(1−1)}
\addplot[black, line width=1.1pt, dash pattern=on 5pt off 3.5pt] table {\sqtheory};
\addlegendentry{(1−1)}
\addplot[only marks, mark=*, mark size=2.8pt, dgray, draw=dgray, fill=dgray, forget plot] table {\tot};
\addplot[only marks, mark=*, mark size=2.8pt, dgray, draw=dgray, fill=dgray, forget plot] table {\totband};
\addplot[only marks, mark=*, mark size=2.8pt, dgray, draw=dgray, fill=dgray, forget plot] table {\totfloor};
\mleg{0.92cm}{dgray, fill=dgray}{mark=*, mark size=2.8pt}
\addlegendentry{Total}
\addplot[black, line width=1.1pt] table {\tottheory};
\addlegendentry{Total}
\end{axis}

% ================= Panel C =================
\begin{axis}[mainax, at={(57.75pt,35.25pt)}, height=291.75pt,
  tick label style={font=\fc}, label style={font=\fc}, legend style={font=\fc},
  xmode=log, xmin=1e-6, xmax=1e-3, ymin=0, ymax=800,
  xtick={1e-6,1e-5,1e-4,1e-3}, xticklabels={\E{−6},\E{−5},\E{−4},\E{−3}},
  ytick={0,100,200,300,400,500,600,700,800}, yticklabels={0,100,200,300,400,500,600,700,800},
  xlabel={c\textsubscript{2}}, ylabel={Mean Segment Length i [edges]},
  x label style={at={(axis description cs:0.5,-0.088)},anchor=center},
  y label style={at={(axis description cs:-0.1,0.49)},anchor=center},
  legend style={at={(0.99,0.987)},anchor=north east, row sep=0.5pt, column sep=4pt, fill=white},
]
\addplot[only marks, mark=x, mark size=7.5pt, black, line width=1.1pt, forget plot] table {\cx};
\addplot[only marks, mark=+, mark size=7.5pt, black, line width=1.1pt, forget plot] table {\cp};
\addplot[only marks, mark=diamond, mark size=9pt, black, line width=1.1pt, forget plot] table {\cd};
\addplot[only marks, mark=o, mark size=7pt, black, line width=1.1pt, forget plot] table {\co};
\mleg{0.92cm}{black, line width=1.1pt}{mark=x, mark size=7.5pt}
\addlegendentry{(2−2)}
\mleg{0.92cm}{black, line width=1.1pt}{mark=+, mark size=7.5pt}
\addlegendentry{(1−1)}
\mleg{0.92cm}{black, line width=1.1pt}{mark=diamond, mark size=9pt}
\addlegendentry{(1−3)}
\mleg{0.92cm}{black, line width=1.1pt}{mark=o, mark size=7pt}
\addlegendentry{(3−3)}
\addplot[black, line width=1.2pt, dash pattern=on 5pt off 3.5pt] coordinates {(1e-6,755) (1e-3,755)};
\addlegendentry{(1−1) Eq. 4}
\addplot[densely dotted, gray, line width=0.6pt] coordinates {(1e-6,116) (1e-3,116)};
\addlegendentry{(2−2) Eq. 4}
\addplot[black, line width=1.1pt] table {\ceq};
\addlegendentry{Eq. 3}
\end{axis}

\node[font=\serifL\fontsize{17.5}{20}\selectfont] at (14.25pt,1008.75pt) {A};
\node[font=\serifL\fontsize{17.5}{20}\selectfont] at (15pt,663pt) {B};
\node[font=\serifL\fontsize{17.5}{20}\selectfont] at (13.5pt,310.5pt) {C};
\end{tikzpicture}
\end{document}
